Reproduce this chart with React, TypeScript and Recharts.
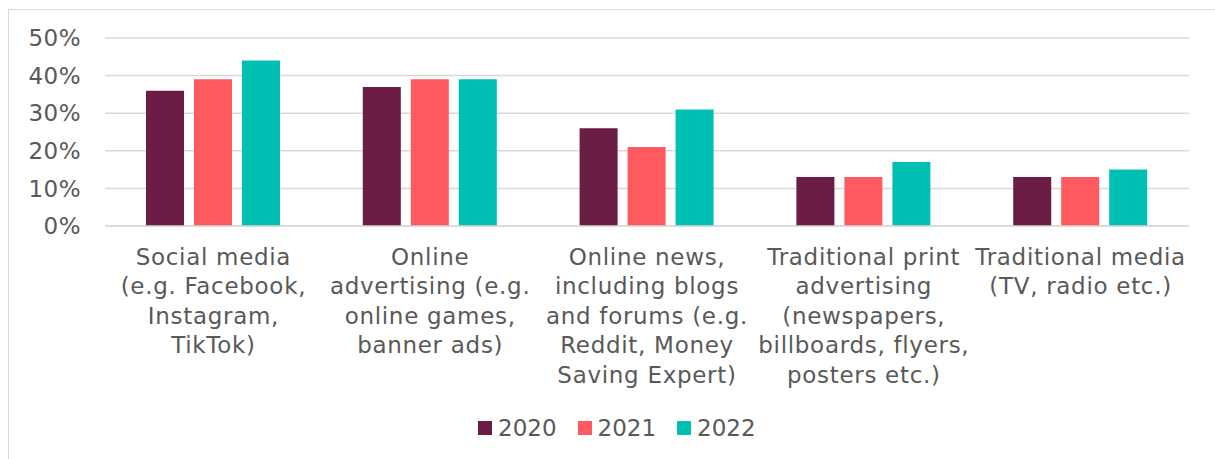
import React from "react";
import { BarChart, Bar, XAxis, YAxis, CartesianGrid, Legend } from "recharts";

const categories = [
  "Social media\n(e.g. Facebook,\nInstagram,\nTikTok)",
  "Online\nadvertising (e.g.\nonline games,\nbanner ads)",
  "Online news,\nincluding blogs\nand forums (e.g.\nReddit, Money\nSaving Expert)",
  "Traditional print\nadvertising\n(newspapers,\nbillboards, flyers,\nposters etc.)",
  "Traditional media\n(TV, radio etc.)",
];
const series2020 = [36, 37, 26, 13, 13];
const series2021 = [39, 39, 21, 13, 13];
const series2022 = [44, 39, 31, 17, 15];
const yTicks = [0, 10, 20, 30, 40, 50];
const seriesNames = ["2020", "2021", "2022"];
const seriesColors = ["#6B1C45", "#FF5A5F", "#00BFB3"];

const data = categories.map((c, i) => ({
  name: c,
  "2020": series2020[i],
  "2021": series2021[i],
  "2022": series2022[i],
}));

const FONT = "'DejaVu Sans', Verdana, sans-serif";
const TEXT = "#595959";

const XTick = (props: any) => {
  const { x, y, payload } = props;
  const lines = String(payload.value).split("\n");
  return (
    <text
      x={x}
      y={y + 39}
      textAnchor="middle"
      fill={TEXT}
      fontSize={23}
      fontFamily={FONT}
      letterSpacing={0.7}
    >
      {lines.map((l, i) => (
        <tspan key={i} x={x} dy={i === 0 ? 0 : 29.4}>
          {l}
        </tspan>
      ))}
    </text>
  );
};

const LegendContent = () => (
  <div
    style={{
      width: 1215,
      height: 34,
      display: "flex",
      alignItems: "center",
      paddingLeft: 478,
      boxSizing: "border-box",
      fontFamily: FONT,
      fontSize: 23,
      color: TEXT,
    }}
  >
    {seriesNames.map((n, i) => (
      <div
        key={n}
        style={{ display: "flex", alignItems: "center", marginRight: 21 }}
      >
        <div
          style={{
            width: 14,
            height: 14,
            background: seriesColors[i],
            marginRight: 6,
          }}
        />
        <span>{n}</span>
      </div>
    ))}
  </div>
);

export default function App() {
  return (
    <div
      style={{
        position: "absolute",
        left: 0,
        top: 0,
        width: 1215,
        height: 459,
        overflow: "hidden",
        background: "#fff",
      }}
    >
      <div
        style={{
          position: "absolute",
          left: 8,
          top: 9,
          width: 1240,
          height: 480,
          border: "1.5px solid #d9d9d9",
        }}
      />
      <div style={{ position: "absolute", left: 0, top: 0 }}>
        <BarChart
          width={1215}
          height={459}
          data={data}
          margin={{ top: 38, right: 26, left: 0, bottom: 14 }}
          barSize={38}
          barGap={10}
        >
          <CartesianGrid
            vertical={false}
            stroke="#d9d9d9"
            strokeWidth={1.5}
          />
          <XAxis
            dataKey="name"
            interval={0}
            height={185}
            tickLine={false}
            axisLine={{ stroke: "#d9d9d9", strokeWidth: 1.5 }}
            tickSize={0}
            tickMargin={0}
            tick={<XTick />}
          />
          <YAxis
            width={105}
            domain={[0, 50]}
            ticks={yTicks}
            tickFormatter={(v: number) => `${v}%`}
            axisLine={false}
            tickLine={false}
            tickSize={0}
            tickMargin={24}
            tick={{ fill: TEXT, fontSize: 23, fontFamily: FONT, letterSpacing: 0.5 }}
          />
          <Legend
            verticalAlign="bottom"
            content={<LegendContent />}
            wrapperStyle={{ left: 0, width: 1215 }}
          />
          {seriesNames.map((n, i) => (
            <Bar
              key={n}
              dataKey={n}
              fill={seriesColors[i]}
              isAnimationActive={false}
            />
          ))}
        </BarChart>
      </div>
    </div>
  );
}
